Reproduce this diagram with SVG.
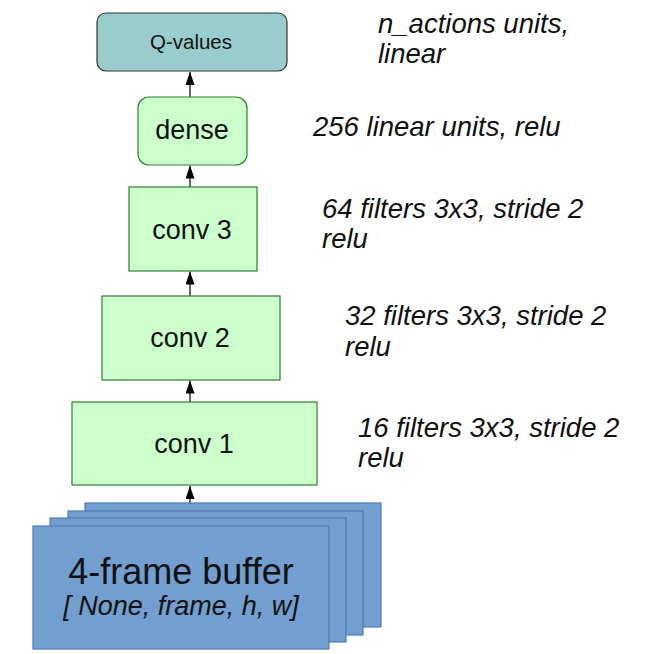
<svg xmlns="http://www.w3.org/2000/svg" width="646" height="654" viewBox="0 0 646 654">
<style>
  .lbl { font-family: "Liberation Sans", Arial, sans-serif; fill: #111; }
  .note { font-family: "Liberation Sans", Arial, sans-serif; font-style: italic; font-size: 27.5px; fill: #111; }
  .layer { fill: #ccffcc; stroke: #2f7f2f; stroke-width: 1.2; }
  .frame { fill: #729fcf; stroke: #4f7bb3; stroke-width: 1.2; }
  .conn { stroke: #000; stroke-width: 1.2; fill: none; }
</style>
<defs>
  <marker id="arr" viewBox="0 0 13 9" refX="13" refY="4.5" markerWidth="13" markerHeight="9" markerUnits="userSpaceOnUse" orient="auto">
    <path d="M0,0 L13,4.5 L0,9 Z" fill="#000"/>
  </marker>
</defs>
<rect width="646" height="654" fill="#fff"/>

<g id="connectors">
  <line class="conn" x1="190" y1="503" x2="190" y2="486" marker-end="url(#arr)"/>
  <line class="conn" x1="190" y1="402" x2="190" y2="380.5" marker-end="url(#arr)"/>
  <line class="conn" x1="190" y1="296" x2="190" y2="271.5" marker-end="url(#arr)"/>
  <line class="conn" x1="190" y1="187" x2="190" y2="165.5" marker-end="url(#arr)"/>
  <line class="conn" x1="190" y1="97" x2="190" y2="72" marker-end="url(#arr)"/>
</g>

<g id="frames">
  <rect class="frame" x="85" y="503" width="296" height="124"/>
  <rect class="frame" x="68" y="511" width="295" height="124"/>
  <rect class="frame" x="50" y="518" width="296" height="124"/>
  <rect class="frame" x="33" y="526" width="296" height="123"/>
  <text class="lbl" x="181" y="584" font-size="36" text-anchor="middle">4-frame buffer</text>
  <text class="lbl" x="181" y="615" font-size="27" font-style="italic" text-anchor="middle">[ None, frame, h, w]</text>
</g>

<g id="conv1">
  <rect class="layer" x="72" y="402" width="245" height="83"/>
  <text class="lbl" x="194" y="453" font-size="27" text-anchor="middle">conv 1</text>
</g>

<g id="conv2">
  <rect class="layer" x="102" y="296" width="178" height="84"/>
  <text class="lbl" x="190" y="347" font-size="27" text-anchor="middle">conv 2</text>
</g>

<g id="conv3">
  <rect class="layer" x="129" y="187" width="128" height="84"/>
  <text class="lbl" x="192" y="239" font-size="27" text-anchor="middle">conv 3</text>
</g>

<g id="dense">
  <rect class="layer" x="138" y="97" width="109" height="68" rx="11" ry="11"/>
  <text class="lbl" x="192" y="139" font-size="27" text-anchor="middle">dense</text>
</g>

<g id="qvalues">
  <rect x="97" y="13" width="190" height="58" rx="9" ry="9" fill="#99cccc" stroke="#333" stroke-width="1.2"/>
  <text class="lbl" x="191" y="49" font-size="20.5" text-anchor="middle">Q-values</text>
</g>

<g id="notes">
  <text class="note" x="378" y="33">n_actions units,</text>
  <text class="note" x="378" y="63">linear</text>
  <text class="note" x="313" y="136">256 linear units, relu</text>
  <text class="note" x="322" y="218">64 filters 3x3, stride 2</text>
  <text class="note" x="322" y="248">relu</text>
  <text class="note" x="345" y="325">32 filters 3x3, stride 2</text>
  <text class="note" x="345" y="356">relu</text>
  <text class="note" x="358" y="437">16 filters 3x3, stride 2</text>
  <text class="note" x="358" y="467">relu</text>
</g>
</svg>
